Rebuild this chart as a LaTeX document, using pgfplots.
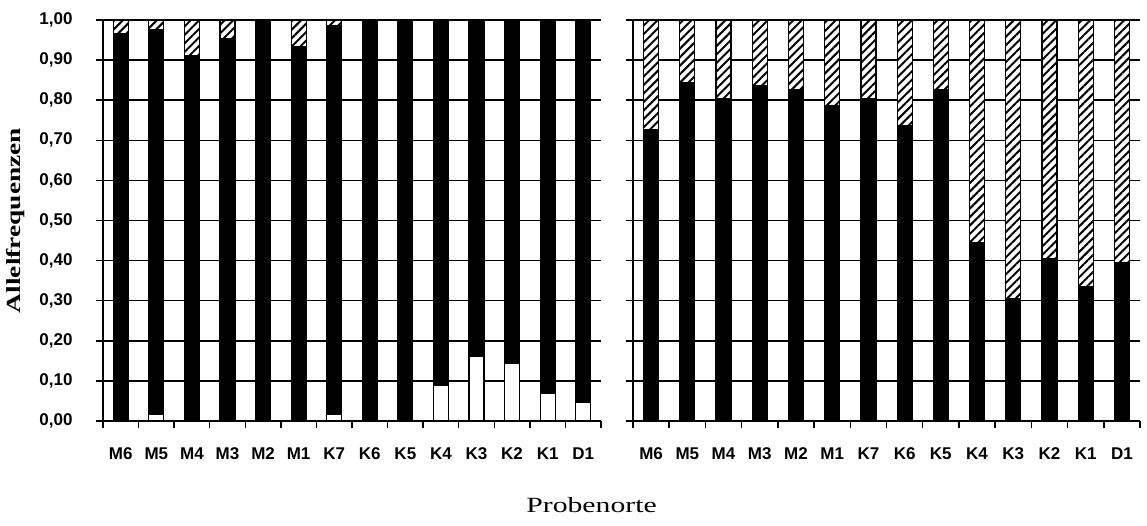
\documentclass[border=0pt]{standalone}
\usepackage{fontspec}
\usepackage{pgfplots}
\usepackage{pgfplotstable}
\pgfplotsset{compat=1.18}
\usetikzlibrary{patterns.meta}
\setmainfont{Liberation Serif}
\newfontfamily\tickfont{Liberation Sans}
\newfontfamily\labfont[FakeStretch=1.37]{Liberation Serif}
\newcommand\tf{\tickfont\bfseries\fontsize{17}{20}\selectfont}

\pgfplotstableread{
x w b h
0 0 0.967 0.033
1 0.017 0.958 0.025
2 0 0.912 0.088
3 0 0.954 0.046
4 0 0.996 0.004
5 0 0.933 0.067
6 0.017 0.968 0.015
7 0.004 0.996 0
8 0.004 0.996 0
9 0.089 0.911 0
10 0.160 0.840 0
11 0.143 0.857 0
12 0.068 0.932 0
13 0.046 0.954 0
}\lefttab

\pgfplotstableread{
x b h
0 0.727 0.273
1 0.845 0.155
2 0.805 0.195
3 0.836 0.164
4 0.826 0.174
5 0.786 0.214
6 0.805 0.195
7 0.737 0.263
8 0.826 0.174
9 0.444 0.556
10 0.304 0.696
11 0.405 0.595
12 0.334 0.666
13 0.395 0.605
}\righttab

\pgfplotsset{
  common/.style={
    scale only axis, height=401pt,
    anchor=south west,
    ymin=0, ymax=1, xmin=-0.5, xmax=13.5,
    ybar stacked, bar width=15pt,
    axis x line*=bottom, axis y line*=left,
    axis line style={-, line width=1.5pt},
    ymajorgrids, grid style={black, line width=1.5pt},
    ytick={0,0.1,0.2,0.3,0.4,0.5,0.6,0.7,0.8,0.9,1},
    xtick={-0.5,0.5,...,13.5},
    x tick label as interval,
    xticklabels={M6,M5,M4,M3,M2,M1,K7,K6,K5,K4,K3,K2,K1,D1},
    tick align=outside,
    major tick length=7pt,
    tick style={black, line width=1.5pt},
    xticklabel style={font=\tf, anchor=north, yshift=-16pt},
    yticklabel style={font=\tf, anchor=east, xshift=-20pt,
      /pgf/number format/.cd, fixed, fixed zerofill, precision=2, use comma, assume math mode=true},
    every axis plot/.append style={draw=black, line width=1.2pt},
  },
  whitebar/.style={fill=white},
  blackbar/.style={fill=black},
  hatchbar/.style={fill=white, postaction={pattern={Lines[angle=45,distance=6pt,line width=2pt]}}},
}

\begin{document}
\begin{tikzpicture}[x=1pt,y=1pt]
\useasboundingbox (0,0) rectangle (1147,525);
\begin{axis}[common, at={(103pt,104pt)}, width=498pt,
  ylabel={\labfont\bfseries\fontsize{20}{22}\selectfont Allelfrequenzen},
  ylabel style={at={(rel axis cs:-0.175,0.5)}, anchor=center, rotate=0},
  xlabel={\labfont\fontsize{21.7}{24}\selectfont Probenorte},
  xlabel style={at={(rel axis cs:0.981,-0.2287)}, anchor=base},
]
\addplot[whitebar] table[x=x,y=w] {\lefttab};
\addplot[blackbar] table[x=x,y=b] {\lefttab};
\addplot[hatchbar] table[x=x,y=h] {\lefttab};
\end{axis}
\begin{axis}[common, at={(633pt,104pt)}, width=507pt, yticklabels={}]
\addplot[blackbar] table[x=x,y=b] {\righttab};
\addplot[hatchbar] table[x=x,y=h] {\righttab};
\end{axis}
\end{tikzpicture}
\end{document}
